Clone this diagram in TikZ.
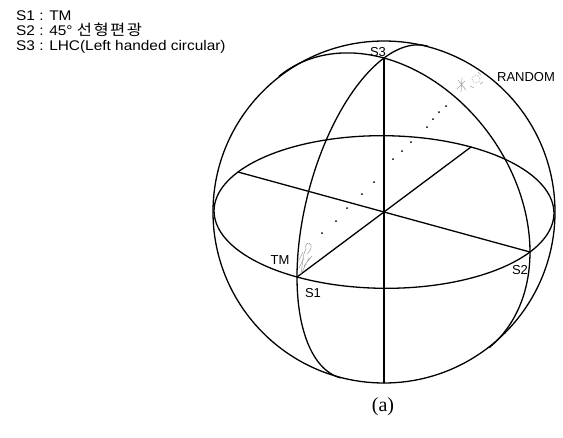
\documentclass[tikz,border=0pt]{standalone}
\usepackage{fontspec}
\setmainfont{Liberation Serif}
\newfontfamily\labelfont{Liberation Sans}
\newfontfamily\legendfont{Liberation Sans}[FakeStretch=1.1]
\newfontfamily\kofont{Noto Sans CJK KR}[FakeStretch=1.1,LetterSpace=10]
\usetikzlibrary{calc,positioning}

\begin{document}
\begin{tikzpicture}[x=1pt,y=-1pt,
    curve/.style={line width=1.3pt,line join=round,line cap=round},
    speckle/.style={gray!70,line width=0.6pt},
    lbl/.style={font=\labelfont\fontsize{13}{15}\selectfont,inner sep=0pt},
    legend/.style={font=\legendfont\fontsize{14}{16}\selectfont,inner sep=0pt,anchor=base west}]
  \useasboundingbox (0,0) rectangle (563,437);
  % centre and the three axis points
  \coordinate (O) at (384,212);
  \coordinate (S1) at (297,277);
  \coordinate (S2) at (530,252);
  \coordinate (S3) at (384,58);
  \coordinate (S1b) at (471,147);
  \coordinate (S2b) at (238,172);
  \coordinate (S3b) at (384,383);
  % outline, equator and the two front meridians
  \draw[curve] (O) circle[radius=171pt];
  \draw[curve] plot[domain=0:360,samples=145,variable=\t]
    ({384-87*cos(\t)+146*sin(\t)},{212+65*cos(\t)+40*sin(\t)}) -- cycle;
  \draw[curve] plot[domain=-60:120,samples=90,variable=\t]
    ({384-87*cos(\t)},{212+65*cos(\t)-154*sin(\t)});
  \draw[curve] plot[domain=-44:136,samples=90,variable=\t]
    ({384+146*cos(\t)},{212+40*cos(\t)-154*sin(\t)});
  % axes
  \draw[curve] (S1) -- (S1b);
  \draw[curve] (S2) -- (S2b);
  \draw[curve] (S3) -- (S3b);
  % measured states
  \foreach \p in {(322,233),(336,221),(347,208),(362,194),(374,182),(393,159),
                  (402,151),(411,142),(427,127),(433,119),(439,112),(446,106)}
    \fill \p circle[radius=1pt];
  \draw[speckle] (301,274) .. controls (303,264) and (302,256) .. (306,249)
    .. controls (304,244) and (309,241) .. (311,245)
    .. controls (312,249) and (309,252) .. (307,254);
  \draw[speckle] (299,268) -- (304,258) (302,272) -- (309,258)
    (298,262) -- (303,252) (304,266) -- (312,256);
  \draw[speckle] (458,80) -- (466,90) (457,89) -- (465,81) (462,78) -- (461,92);
  \draw[speckle,dash pattern=on 1.5pt off 1.5pt] (476,79) circle[radius=4pt];
  \draw[speckle] (470,86) -- (474,88) (478,72) -- (481,75) (480,84) -- (483,82);
  % labels
  \node[lbl] (tS3) at (378,52) {S3};
  \node[lbl] (tRandom) at (526,77) {RANDOM};
  \node[lbl] (tTM) at (280,260) {TM};
  \node[lbl] (tS1) at (313,293) {S1};
  \node[lbl] (tS2) at (520,270) {S2};
  \node[inner sep=0pt] (caption) at (383,407) {\rmfamily\fontsize{20}{24}\selectfont (a)};
  % legend
  \node[legend] (leg1) at (16,20) {S1 : TM};
  \node[legend] (leg2) at (16,35) {S2 : 45° {\kofont\fontsize{15}{16}\selectfont 선형편광}};
  \node[legend] (leg3) at (16,50) {S3 : LHC(Left handed circular)};
\end{tikzpicture}
\end{document}
